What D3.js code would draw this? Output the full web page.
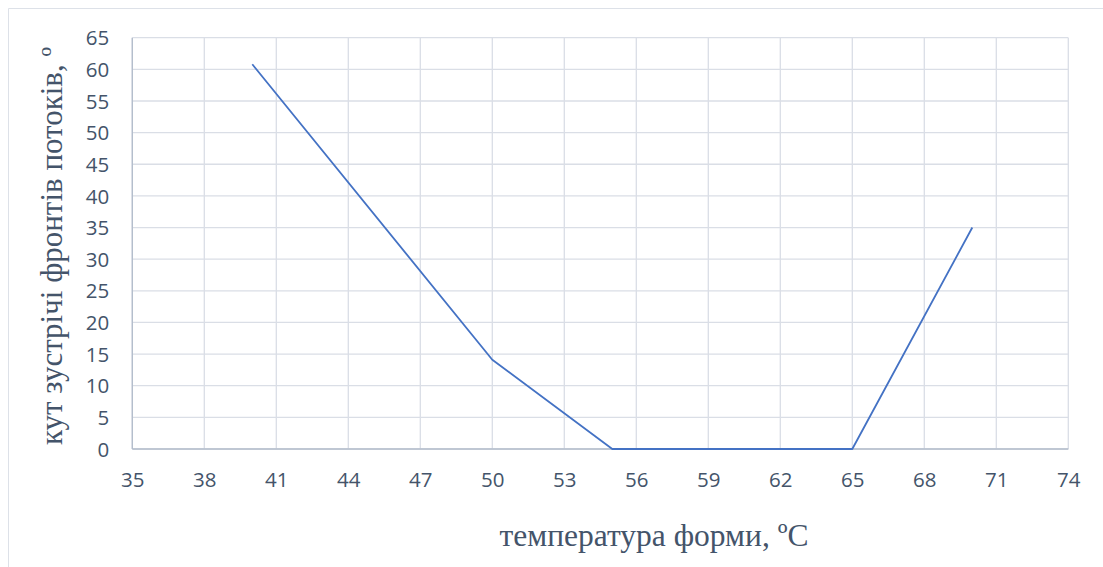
<!DOCTYPE html>
<html><head><meta charset="utf-8">
<script src="https://cdn.jsdelivr.net/npm/d3@7"></script>
<style>body{margin:0;background:#fff;}svg{display:block;}</style>
</head><body>
<svg id="c" width="1103" height="567"></svg>
<script>
const temperature = [40, 50, 55, 65, 70];
const angle = [60.8, 14.1, 0, 0, 35];
const xTicks = [35, 38, 41, 44, 47, 50, 53, 56, 59, 62, 65, 68, 71, 74];
const yTicks = [0, 5, 10, 15, 20, 25, 30, 35, 40, 45, 50, 55, 60, 65];
const xTitle = "температура форми, ºС";
const yTitle = "кут зустрічі фронтів потоків, º";

const svg = d3.select("#c");
const W = 1103, H = 567;
const x = d3.scaleLinear().domain([35, 74]).range([132.3, 1068.3]);
const y = d3.scaleLinear().domain([0, 65]).range([449, 37.7]);

// outer chart border (top & left visible)
svg.append("path").attr("d", `M8.5,${H}V8.5H${W}`).attr("fill","none").attr("stroke","#dde1e8").attr("stroke-width",1);

// grid
const g = svg.append("g");
g.selectAll(".vg").data(xTicks).join("line")
  .attr("x1", d=>x(d)).attr("x2", d=>x(d)).attr("y1", y(65)).attr("y2", y(0))
  .attr("stroke","#dadee6").attr("stroke-width",1.3);
g.selectAll(".hg").data(yTicks).join("line")
  .attr("y1", d=>y(d)).attr("y2", d=>y(d)).attr("x1", x(35)).attr("x2", x(74))
  .attr("stroke","#dadee6").attr("stroke-width",1.3);

// axes lines
svg.append("line").attr("x1",x(35)).attr("x2",x(74)).attr("y1",y(0)).attr("y2",y(0)).attr("stroke","#b3bccb").attr("stroke-width",1.3);
svg.append("line").attr("x1",x(35)).attr("x2",x(35)).attr("y1",y(0)).attr("y2",y(65)).attr("stroke","#b3bccb").attr("stroke-width",1.3);

// axes with d3
const xAxis = d3.axisBottom(x).tickValues(xTicks).tickSize(0).tickPadding(0);
const xa = svg.append("g").attr("transform",`translate(0,${y(0)})`).call(xAxis);
xa.select(".domain").remove();
xa.selectAll("text").attr("dy",null).attr("y",38).attr("fill","#44546a")
  .style("font-family","'Open Sans', sans-serif").style("font-size","20.5px");

const yAxis = d3.axisLeft(y).tickValues(yTicks).tickSize(0).tickPadding(0);
const ya = svg.append("g").attr("transform",`translate(${x(35)},0)`).call(yAxis);
ya.select(".domain").remove();
ya.selectAll("text").attr("x",-23).attr("dy","0.35em").attr("fill","#44546a")
  .style("font-family","'Open Sans', sans-serif").style("font-size","20.5px");

// line
const line = d3.line().x((d,i)=>x(temperature[i])).y(d=>y(d));
svg.append("path").datum(angle).attr("d", line).attr("fill","none")
  .attr("stroke","#4472c4").attr("stroke-width",1.8).attr("stroke-linejoin","round");

// titles
svg.append("text").attr("x", 654).attr("y", 546).attr("text-anchor","middle")
  .attr("fill","#44546a").style("font-family","'Liberation Serif', serif").style("font-size","31.5px")
  .text(xTitle);
svg.append("text").attr("transform","translate(62,246) rotate(-90)").attr("text-anchor","middle")
  .attr("fill","#44546a").style("font-family","'Liberation Serif', serif").style("font-size","31px")
  .text(yTitle);
</script>
</body></html>
